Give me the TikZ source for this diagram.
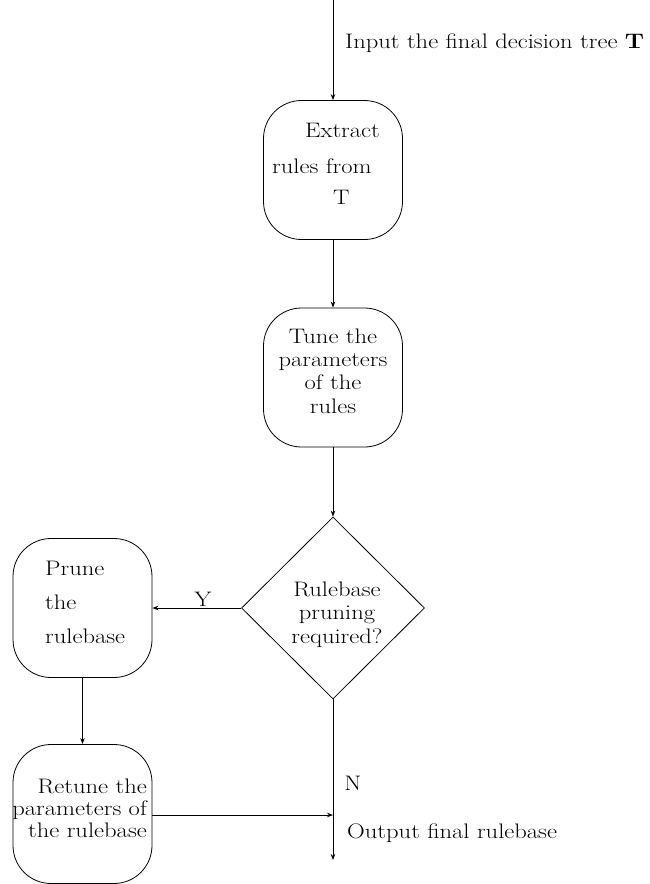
\documentclass[tikz,border=0pt]{standalone}
\usepackage{fontspec}
\setmainfont{Latin Modern Roman}[FakeStretch=1.17]
\usetikzlibrary{shapes.geometric,arrows.meta}
\begin{document}
\begin{tikzpicture}[x=1pt,y=-1pt,
  font=\fontsize{21}{23.3}\selectfont,
  box/.style={draw,line width=0.8pt,rounded corners=38pt,minimum width=139pt,minimum height=139pt,inner sep=0pt},
  dia/.style={draw,line width=0.8pt,diamond,minimum width=183pt,minimum height=182pt,inner sep=0pt},
  txt/.style={inner sep=0pt},
  flow/.style={line width=0.8pt,-{Stealth[length=6pt,width=4.5pt]}}]
\useasboundingbox (0,0) rectangle (650,884);
\coordinate (start) at (333,0);
\node[box] (extract) at (333,170) {};
\node[txt,anchor=base west] (ex1) at (305,137) {Extract};
\node[txt,anchor=base west] (ex2) at (272,173) {rules from};
\node[txt,anchor=base west] (ex3) at (333,204) {T};
\node[box] (tune) at (333,377.5) {};
\node[txt,align=center,anchor=base] (tunetxt) at (333,413) {Tune the\\parameters\\of the\\rules};
\node[dia] (dec) at (333,608) {};
\node[txt,align=center,anchor=base] (dectxt) at (337,643) {Rulebase\\pruning\\required?};
\node[box] (prune) at (82.5,608) {};
\node[txt,anchor=base west,align=left,font=\fontsize{21}{34}\selectfont] (prtxt) at (45,643) {Prune\\the\\rulebase};
\node[box] (retune) at (82.5,814) {};
\node[txt,anchor=base east,align=right,font=\fontsize{21}{22}\selectfont] (retxt) at (147,837) {Retune the\\parameters of\\the rulebase};
\coordinate (join) at (333,815);
\coordinate (out) at (333,860);
\node[txt,anchor=base west] (intxt) at (345,48) {Input the final decision tree \textbf{T}};
\node[txt,anchor=base] (ylab) at (203,606) {Y};
\node[txt,anchor=base] (nlab) at (353,790) {N};
\node[txt,anchor=base west] (outtxt) at (347,838) {Output final rulebase};
\draw[flow] (start) -- (extract);
\draw[flow] (extract) -- (tune);
\draw[flow] (tune) -- (dec);
\draw[flow] (dec.west) -- (prune.east);
\draw[flow] (prune) -- (retune);
\draw[flow] (retune.east |- join) -- (join);
\draw[flow] (dec.south) -- (out);
\end{tikzpicture}
\end{document}
